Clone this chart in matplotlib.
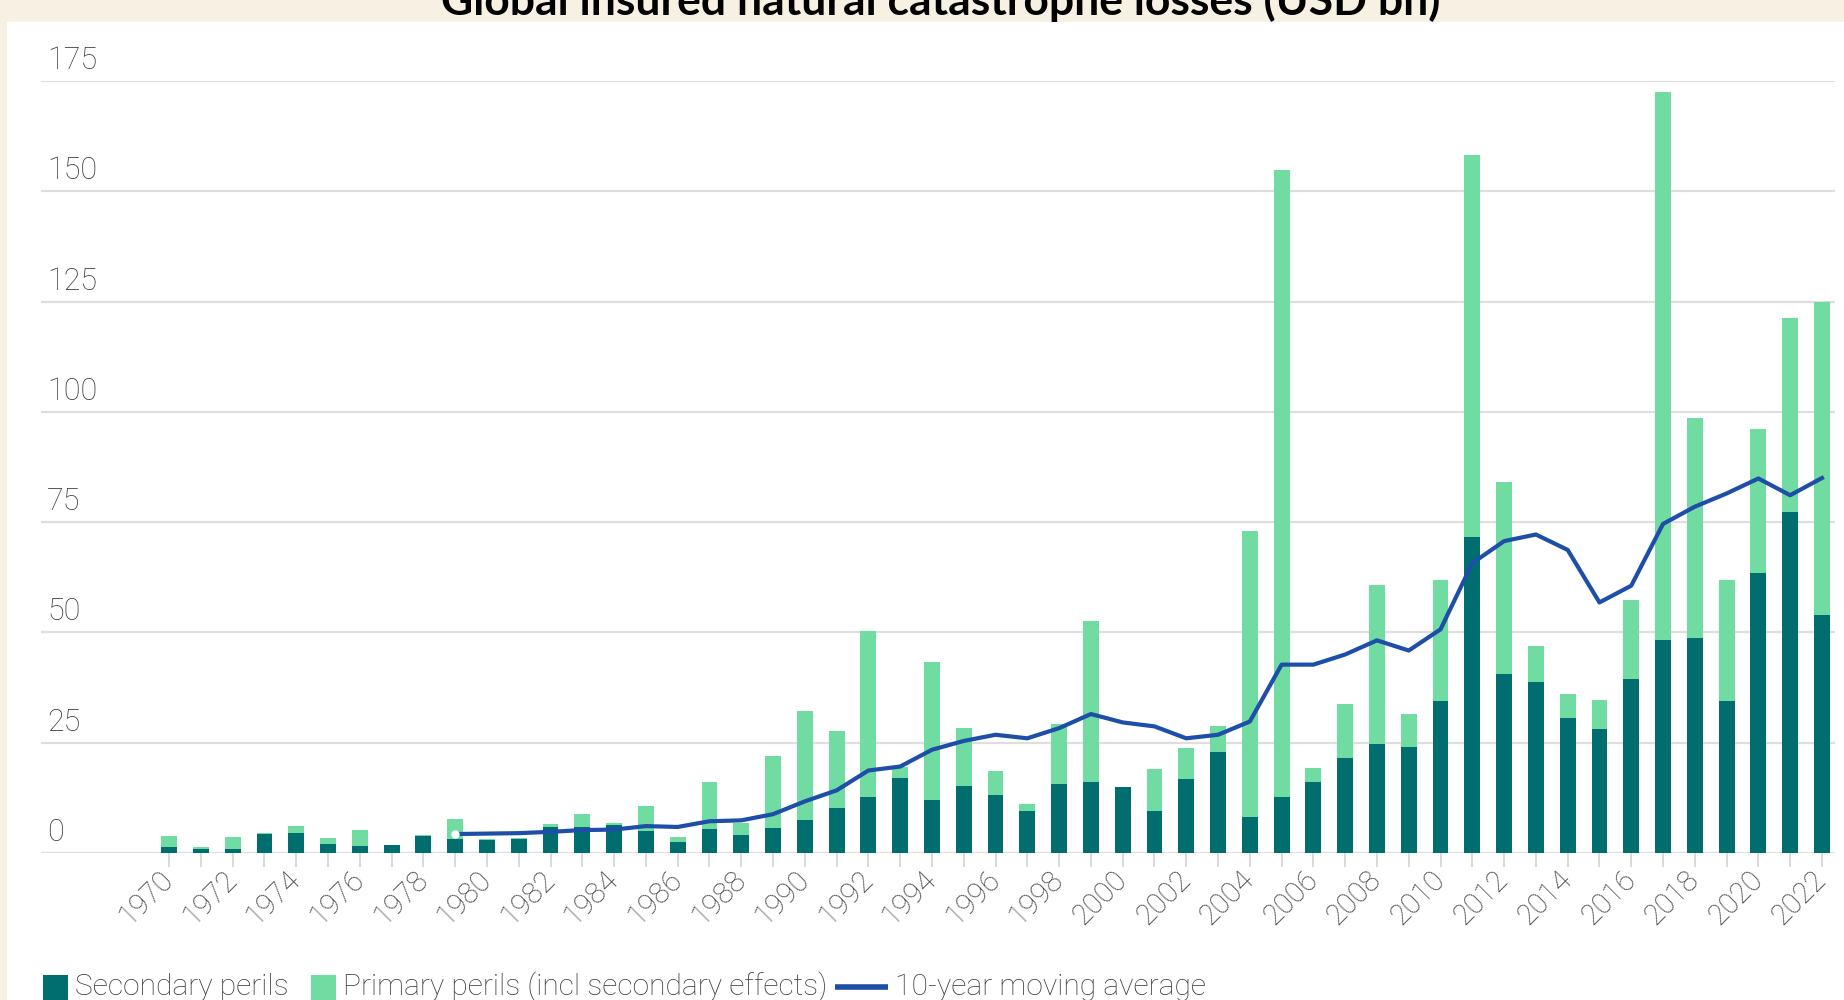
import matplotlib
matplotlib.use("Agg")
import matplotlib.pyplot as plt
from matplotlib.patches import Rectangle
from matplotlib.lines import Line2D
from matplotlib.transforms import ScaledTranslation
from matplotlib.offsetbox import AnchoredOffsetbox, HPacker, DrawingArea, TextArea

# data (USD bn)
years = list(range(1970, 2023))
secondary = [1.3, 0.8, 1.0, 4.3, 4.5, 2.0, 1.7, 1.9, 3.9, 3.2,
             3.0, 3.2, 6.0, 6.0, 6.3, 5.1, 2.6, 5.5, 4.0, 5.7,
             7.4, 10.3, 12.6, 17.0, 12.1, 15.3, 13.2, 9.6, 15.6, 16.0,
             14.9, 9.5, 16.8, 22.8, 8.2, 12.7, 16.0, 21.5, 24.6, 24.0,
             34.5, 71.6, 40.5, 38.7, 30.7, 28.2, 39.4, 48.3, 48.8, 34.5,
             63.5, 77.2, 54.0]
primary = [2.6, 0.5, 2.7, 0.2, 1.7, 1.4, 3.6, 0.0, 0.2, 4.6,
           0.2, 0.2, 0.6, 2.9, 0.5, 5.5, 1.1, 10.7, 2.8, 16.2,
           24.7, 17.3, 37.8, 2.4, 31.3, 13.0, 5.4, 1.6, 13.7, 36.5,
           0.0, 9.6, 7.0, 6.1, 64.9, 142.2, 3.2, 12.2, 36.1, 7.4,
           27.3, 86.7, 43.7, 8.2, 5.4, 6.5, 18.0, 124.2, 49.7, 27.3,
           32.6, 44.0, 70.9]
ma_years = list(range(1979, 2023))
moving_avg = [4.3, 4.4, 4.5, 4.8, 5.2, 5.3, 6.1, 5.9, 7.2, 7.4,
              8.8, 11.7, 14.2, 18.7, 19.6, 23.4, 25.4, 26.8, 26.0, 28.3,
              31.5, 29.6, 28.7, 26.0, 26.8, 29.8, 42.7, 42.7, 45.0, 48.2,
              45.9, 50.7, 65.7, 70.7, 72.2, 68.7, 56.8, 60.6, 74.6, 78.5,
              81.5, 84.9, 81.1, 85.0]
yticks = [0, 25, 50, 75, 100, 125, 150, 175]

title = "Global insured natural catastrophe losses (USD bn)"
labels = ["Secondary perils", "Primary perils (incl secondary effects)",
          "10-year moving average"]

DARK = "#006e6f"
LIGHT = "#70dca1"
BLUE = "#1d4fa8"
GRID = "#dedede"
TXT = "#3c3c3c"
FONT = "Roboto"

fig = plt.figure(figsize=(18.44, 10), dpi=100)
fig.patch.set_facecolor("#f7f1e4")
# white card behind the chart
fig.patches.append(Rectangle((7 / 1844, 0), 1, 1 - 22 / 1000, transform=fig.transFigure,
                             facecolor="white", edgecolor="none", zorder=-10))

fig.text(0.510, 1 - 15 / 1000, title, ha="center", va="baseline",
         fontsize=32, fontweight="bold", family="Lato", color="black")

ax = fig.add_axes([41 / 1844, 147 / 1000, 1794 / 1844, 772 / 1000])
ax.set_facecolor("none")
ax.set_zorder(2)

ax.bar(years, secondary, width=0.5, color=DARK, zorder=2)
ax.bar(years, primary, width=0.5, bottom=secondary, color=LIGHT, zorder=2)
ax.plot(ma_years, moving_avg, color=BLUE, lw=3, zorder=3, solid_joinstyle="round",
        marker="o", markevery=[0], ms=5, mfc="white", mec="white")

ax.set_xlim(1965.97, 2022.41)
ax.set_ylim(0, 175)

for s in ax.spines.values():
    s.set_visible(False)

ax.set_yticks(yticks)
ax.yaxis.grid(True, color=GRID, lw=1.6, zorder=0)
ax.set_axisbelow(True)
ax.tick_params(axis="y", length=0, labelleft=False)
off = ScaledTranslation(6 / 100, 6 / 100, fig.dpi_scale_trans)
for v in yticks:
    ax.text(0, v, str(v), transform=ax.get_yaxis_transform() + off,
            ha="left", va="bottom", fontsize=22, color=TXT, family=FONT, fontweight="light")

ax.set_xticks(years)
ax.set_xticklabels([str(y) if y % 2 == 0 else "" for y in years],
                   rotation=45, ha="right", va="center", rotation_mode="anchor",
                   fontsize=21, color=TXT, family=FONT, fontweight="light")
ax.tick_params(axis="x", length=10, width=1.4, color="#d9d9d9", pad=6)

# legend: square patches and a line, built from offset boxes
def item(kind, color, text, lead=0):
    if kind == "box":
        da = DrawingArea(18 + lead, 18, 0, 0)
        da.add_artist(Rectangle((lead, 0), 18, 18, facecolor=color, edgecolor="none"))
    else:
        da = DrawingArea(38 + lead, 18, 0, 0)
        da.add_artist(Line2D([lead, lead + 38], [9, 9], color=color, lw=4,
                             solid_capstyle="butt"))
    ta = TextArea(text, textprops=dict(fontsize=21.6, color=TXT, family=FONT, fontweight="light"))
    return HPacker(children=[da, ta], sep=5, align="center", pad=0)

row = HPacker(children=[item("box", DARK, labels[0]),
                        item("box", LIGHT, labels[1], lead=10),
                        item("line", BLUE, labels[2])],
              sep=6, align="center", pad=0)
leg = AnchoredOffsetbox(loc="center left", child=row, pad=0, borderpad=0, frameon=False,
                        bbox_to_anchor=(43 / 1844, 13 / 1000), bbox_transform=fig.transFigure)
fig.add_artist(leg)

fig.savefig("out.png", dpi=100, facecolor=fig.get_facecolor())
